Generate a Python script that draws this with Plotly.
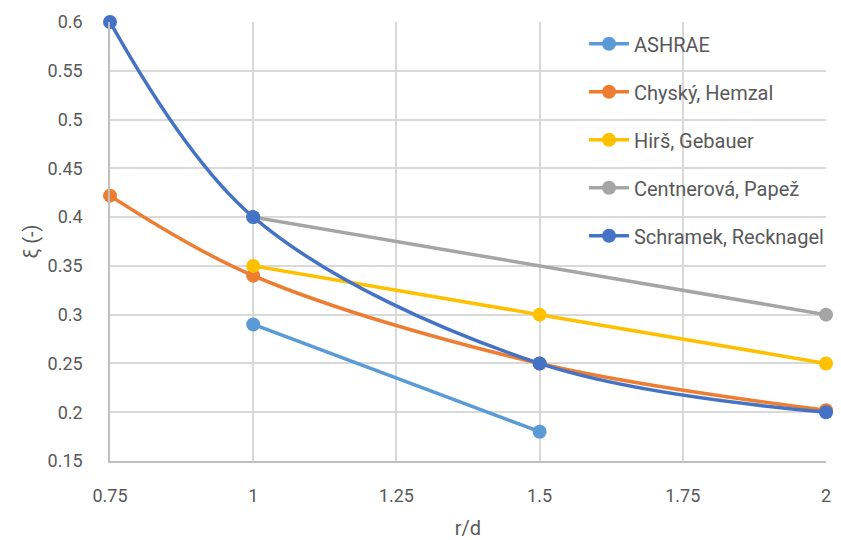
import plotly.graph_objects as go

series_names = ["ASHRAE", "Chyský, Hemzal", "Hirš, Gebauer", "Centnerová, Papež", "Schramek, Recknagel"]
x_ashrae = [1.0, 1.5]
y_ashrae = [0.29, 0.18]
x_chysky = [0.75, 1.0, 1.5, 2.0]
y_chysky = [0.422, 0.34, 0.25, 0.202]
x_hirs = [1.0, 1.5, 2.0]
y_hirs = [0.35, 0.30, 0.25]
x_cent = [1.0, 2.0]
y_cent = [0.40, 0.30]
x_schr = [0.75, 1.0, 1.5, 2.0]
y_schr = [0.60, 0.40, 0.25, 0.20]
colors = ["#5B9BD5", "#ED7D31", "#FFC000", "#A5A5A5", "#4472C4"]

xs = [x_ashrae, x_chysky, x_hirs, x_cent, x_schr]
ys = [y_ashrae, y_chysky, y_hirs, y_cent, y_schr]

font_family = "Roboto, Liberation Sans, sans-serif"
text_color = "#595959"

fig = go.Figure()
for i, (name, x, y, c) in enumerate(zip(series_names, xs, ys, colors)):
    fig.add_trace(go.Scatter(
        x=x, y=y, name=name, mode="lines+markers",
        line=dict(color=c, width=3.5, shape="spline", smoothing=1.0),
        marker=dict(color=c, size=14),
        legendgroup=f"g{i}", cliponaxis=False,
    ))

fig.update_layout(
    width=841, height=540,
    margin=dict(l=110, r=15, t=22, b=79, autoexpand=False),
    paper_bgcolor="white", plot_bgcolor="white",
    font=dict(family=font_family, color=text_color, size=18),
    legend=dict(x=0.662, y=0.995, xanchor="left", yanchor="top",
                bgcolor="rgba(0,0,0,0)", font=dict(size=20, color=text_color),
                tracegroupgap=19, itemwidth=40),
    showlegend=True,
)
fig.update_xaxes(range=[0.75, 2.0], tickvals=[0.75, 1, 1.25, 1.5, 1.75, 2],
                 ticktext=["0.75", "1", "1.25", "1.5", "1.75", "2"],
                 showgrid=True, gridcolor="#D9D9D9", gridwidth=1.5,
                 showline=True, linecolor="#BFBFBF", linewidth=1.5,
                 zeroline=False, ticks="outside", ticklen=18, tickcolor="rgba(0,0,0,0)",
                 tickfont=dict(size=18), automargin=False,
                 title=dict(text="r/d", font=dict(size=20), standoff=16))
fig.update_yaxes(range=[0.15, 0.6], tickvals=[0.15, 0.2, 0.25, 0.3, 0.35, 0.4, 0.45, 0.5, 0.55, 0.6],
                 ticktext=["0.15", "0.2", "0.25", "0.3", "0.35", "0.4", "0.45", "0.5", "0.55", "0.6"],
                 showgrid=True, gridcolor="#D9D9D9", gridwidth=1.5,
                 showline=True, linecolor="#BFBFBF", linewidth=1.5,
                 zeroline=False, ticks="outside", ticklen=22, tickcolor="rgba(0,0,0,0)",
                 tickfont=dict(size=18), automargin=False,
                 title=dict(text="ξ (-)", font=dict(size=20), standoff=4))

fig.write_html("out.html")
